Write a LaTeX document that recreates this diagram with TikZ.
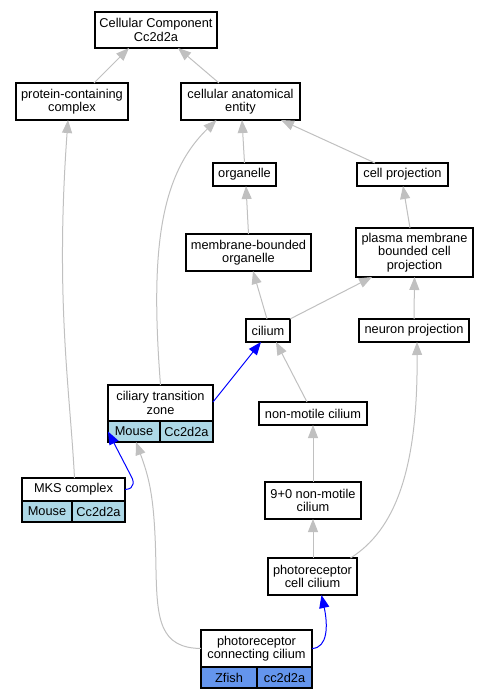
\documentclass[tikz,border=0pt]{standalone}
\usepackage{fontspec}
\setmainfont{Liberation Sans}
\usetikzlibrary{arrows.meta}
\definecolor{edgegray}{RGB}{192,192,192}
\definecolor{mouseblue}{RGB}{173,216,230}
\definecolor{fishblue}{RGB}{100,149,237}
\begin{document}
\begin{tikzpicture}[x=1pt, y=-1pt,
  term/.style={draw, line width=1.1pt, fill=white, inner sep=0pt, outer sep=0pt, align=center,
    font=\fontsize{12.8}{13.3}\selectfont},
  field/.style={term, anchor=north west, minimum height=21pt},
  isa/.style={draw=edgegray, line width=1pt, -{Triangle[length=13pt,width=10pt]}},
  anno/.style={draw=blue, line width=1pt, -{Triangle[length=13pt,width=10pt]}}]
\useasboundingbox (0,0) rectangle (489,699);
% terms
\node[term, minimum width=122pt, minimum height=36pt] (cc) at (156,30) {Cellular Component\\Cc2d2a};
\node[term, minimum width=112pt, minimum height=37pt] (pcx) at (72,101.5) {protein-containing\\complex};
\node[term, minimum width=119pt, minimum height=37pt] (cae) at (240.5,101.5) {cellular anatomical\\entity};
\node[term, minimum width=63pt, minimum height=23pt] (org) at (244.5,174.5) {organelle};
\node[term, minimum width=91pt, minimum height=23pt] (cp) at (402.5,174.5) {cell projection};
\node[term, minimum width=125pt, minimum height=37pt] (mbo) at (248.5,252.5) {membrane-bounded\\organelle};
\node[term, minimum width=117pt, minimum height=49pt] (pmbcp) at (414.5,252.5) {plasma membrane\\bounded cell\\projection};
\node[term, minimum width=44pt, minimum height=23pt] (cil) at (268,330.5) {cilium};
\node[term, minimum width=110pt, minimum height=23pt] (np) at (414,330.5) {neuron projection};
\node[term, minimum width=105pt, minimum height=36pt] (ctz) at (160.5,403) {ciliary transition\\zone};
\node[field, fill=mouseblue, minimum width=52pt] (ctzsp) at (ctz.south west) {Mouse};
\node[field, fill=mouseblue, minimum width=53pt] (ctzgene) at (ctzsp.north east) {Cc2d2a};
\node[term, minimum width=108pt, minimum height=23pt] (nmc) at (313,413.5) {non-motile cilium};
\node[term, minimum width=103pt, minimum height=23pt] (mks) at (73.5,489.5) {MKS complex};
\node[field, fill=mouseblue, minimum width=50pt] (mkssp) at (mks.south west) {Mouse};
\node[field, fill=mouseblue, minimum width=53pt] (mksgene) at (mkssp.north east) {Cc2d2a};
\node[term, minimum width=96pt, minimum height=37pt] (nine) at (313,500.5) {9+0 non-motile\\cilium};
\node[term, minimum width=89pt, minimum height=37pt] (prc) at (312.5,576.5) {photoreceptor\\cell cilium};
\node[term, minimum width=111pt, minimum height=37pt] (pcon) at (256.5,648.5) {photoreceptor\\connecting cilium};
\node[field, fill=fishblue, minimum width=56pt] (pconsp) at (pcon.south west) {Zfish};
\node[field, fill=fishblue, minimum width=55pt] (pcongene) at (pconsp.north east) {cc2d2a};
% is_a edges
\draw[isa] ([xshift=22pt]pcx.north) -- ([xshift=-27pt]cc.south);
\draw[isa] ([xshift=-21.5pt]cae.north) -- ([xshift=22pt]cc.south);
\draw[isa] (org.north) -- ([xshift=1.5pt]cae.south);
\draw[isa] ([xshift=-27.5pt]cp.north) -- ([xshift=40.5pt]cae.south);
\draw[isa] (mbo.north) -- ([xshift=1.5pt]org.south);
\draw[isa] ([xshift=-4.5pt]pmbcp.north) -- ([xshift=0.5pt]cp.south);
\draw[isa] ([xshift=-1pt]cil.north) -- ([xshift=4.5pt]mbo.south);
\draw[isa] (cil.north east) -- ([xshift=-42.5pt]pmbcp.south);
\draw[isa] (np.north) -- (pmbcp.south);
\draw[isa] (ctz.north) .. controls (150,250) and (160,175) .. ([xshift=-24pt]cae.south);
\draw[isa] ([xshift=-6pt]nmc.north) -- ([xshift=8pt]cil.south);
\draw[isa] ([xshift=1pt]mks.north) .. controls (70,390) and (55,300) .. ([xshift=-4pt]pcx.south);
\draw[isa] (nine.north) -- (nmc.south);
\draw[isa] ([xshift=0.5pt]prc.north) -- (nine.south);
\draw[isa] ([xshift=38pt]prc.north) .. controls (395,530) and (418,470) .. ([xshift=3pt]np.south);
\draw[isa] (pcon.west) .. controls (160,648) and (157,620) .. (156,570)
  .. controls (155,500) and (150,480) .. ([xshift=2pt]ctzsp.south);
% annotations
\draw[anno] ([yshift=1pt]ctz.east) -- ([xshift=-7pt]cil.south);
\draw[anno] (mks.east) .. controls (136,489) and (134,480) .. (130,474) -- (ctzsp.west);
\draw[anno] (pcon.east) .. controls (328,648) and (328,625) .. ([xshift=9pt]prc.south);
\end{tikzpicture}
\end{document}
